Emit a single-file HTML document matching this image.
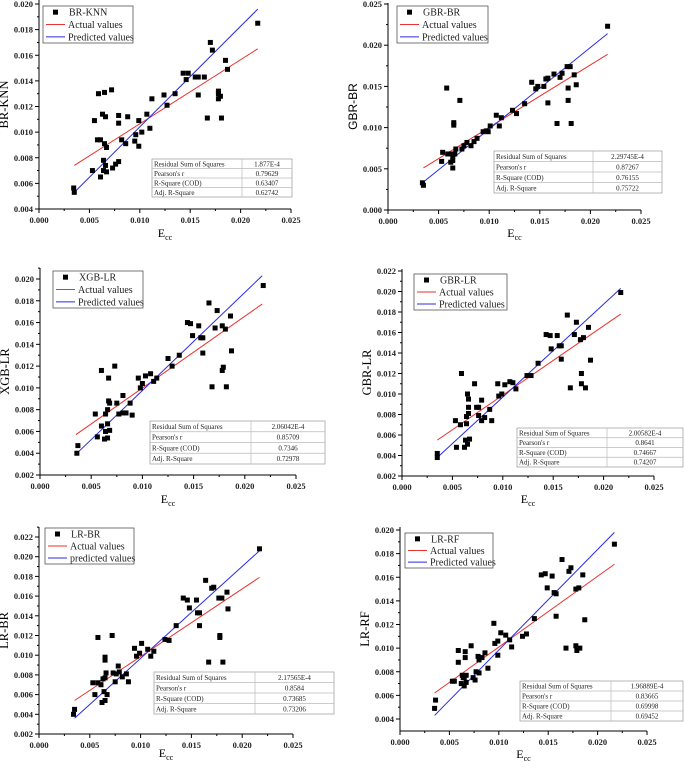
<!DOCTYPE html>
<html><head><meta charset="utf-8"><style>
body{margin:0;background:#fff;}
svg{display:block;font-family:"Liberation Serif",serif;}
</style></head><body>
<svg id="fig" width="685" height="769" viewBox="0 0 685 769" xmlns="http://www.w3.org/2000/svg"></svg>
<script>
// ---- data (per panel) ----
const p1X=[0.00344,0.0035,0.0053,0.0055,0.0059,0.0058,0.0061,0.0063,0.0061,0.0064,0.0064,0.0065,0.0065,0.0066,0.0066,0.0067,0.0067,0.0072,0.0073,0.0076,0.0079,0.0079,0.0079,0.0082,0.0086,0.0088,0.0095,0.0096,0.0099,0.0099,0.0102,0.0107,0.0110,0.0112,0.0124,0.0127,0.0135,0.0143,0.0146,0.0148,0.0155,0.0158,0.0158,0.0164,0.0167,0.0170,0.0172,0.0178,0.0178,0.0178,0.0180,0.0181,0.0185,0.0187,0.0217];
const p1Y=[0.00564,0.0053,0.0070,0.0109,0.0130,0.0094,0.0094,0.0114,0.0065,0.0078,0.0070,0.0091,0.0131,0.0112,0.0074,0.0069,0.0088,0.0133,0.0072,0.0075,0.0113,0.0107,0.0077,0.0094,0.0091,0.0112,0.0093,0.0098,0.0089,0.0109,0.0100,0.0114,0.0103,0.0126,0.0129,0.0121,0.0130,0.0146,0.0141,0.0146,0.0143,0.0143,0.0129,0.0143,0.0111,0.0170,0.0164,0.0132,0.0130,0.0126,0.0128,0.0111,0.0156,0.0149,0.0185];
const p2X=[0.0034,0.0035,0.0053,0.0054,0.0058,0.0059,0.0062,0.0062,0.0064,0.0064,0.0064,0.0065,0.0065,0.0066,0.0067,0.0071,0.0073,0.0075,0.0078,0.0082,0.0085,0.0088,0.0094,0.0097,0.0099,0.0101,0.0107,0.0110,0.0112,0.0123,0.0127,0.0135,0.0142,0.0146,0.0148,0.0154,0.0156,0.0158,0.0158,0.0164,0.0167,0.0170,0.0172,0.0177,0.0178,0.0178,0.0180,0.0181,0.0184,0.0186,0.0217];
const p2Y=[0.0033,0.0030,0.0059,0.0070,0.0148,0.0068,0.0068,0.0058,0.0060,0.0065,0.0051,0.0106,0.0103,0.0068,0.0074,0.0133,0.0074,0.0078,0.0082,0.0078,0.0083,0.0087,0.0095,0.0096,0.0095,0.0102,0.0115,0.0102,0.0112,0.0121,0.0117,0.0129,0.0155,0.0147,0.0150,0.0150,0.0159,0.0160,0.0130,0.0165,0.0105,0.0161,0.0166,0.0174,0.0148,0.0133,0.0174,0.0105,0.0164,0.0152,0.0223];
const p3X=[0.0036,0.0037,0.0054,0.0056,0.0060,0.0060,0.0063,0.0064,0.0064,0.0066,0.0066,0.0066,0.0067,0.0067,0.0068,0.0068,0.0073,0.0075,0.0077,0.0081,0.0081,0.0084,0.0088,0.0090,0.0096,0.0098,0.0100,0.0103,0.0108,0.0111,0.0114,0.0125,0.0129,0.0136,0.0144,0.0147,0.0149,0.0155,0.0157,0.0159,0.0159,0.0165,0.0168,0.0171,0.0173,0.0178,0.0178,0.0179,0.0181,0.0182,0.0186,0.0187,0.0218];
const p3Y=[0.0040,0.0047,0.0076,0.0055,0.0116,0.0065,0.0053,0.0076,0.0060,0.0080,0.0067,0.0054,0.0109,0.0088,0.0086,0.0061,0.0120,0.0086,0.0076,0.0093,0.0077,0.0077,0.0086,0.0075,0.0109,0.0100,0.0104,0.0111,0.0113,0.0106,0.0109,0.0127,0.0120,0.0130,0.0160,0.0159,0.0148,0.0157,0.0146,0.0146,0.0132,0.0178,0.0101,0.0155,0.0171,0.0157,0.0116,0.0119,0.0154,0.0101,0.0166,0.0134,0.0194];
const p4X=[0.0035,0.0035,0.0053,0.0054,0.0058,0.0059,0.0062,0.0063,0.0064,0.0064,0.0065,0.0066,0.0065,0.0066,0.0066,0.0067,0.0072,0.0074,0.0076,0.0076,0.0079,0.0079,0.0082,0.0087,0.0089,0.0095,0.0096,0.0099,0.0102,0.0107,0.0110,0.0113,0.0124,0.0128,0.0135,0.0143,0.0147,0.0148,0.0154,0.0156,0.0158,0.0158,0.0164,0.0167,0.0171,0.0173,0.0177,0.0178,0.0178,0.0180,0.0182,0.0185,0.0187,0.0217];
const p4Y=[0.0038,0.0042,0.0074,0.0048,0.0070,0.0120,0.0048,0.0055,0.0078,0.0071,0.0051,0.0081,0.0100,0.0095,0.0087,0.0056,0.0110,0.0087,0.0087,0.0079,0.0094,0.0074,0.0077,0.0085,0.0074,0.0110,0.0098,0.0100,0.0109,0.0112,0.0111,0.0105,0.0118,0.0118,0.0130,0.0158,0.0157,0.0144,0.0157,0.0147,0.0147,0.0134,0.0177,0.0106,0.0158,0.0170,0.0153,0.0120,0.0110,0.0155,0.0106,0.0165,0.0133,0.0199];
const p5X=[0.0034,0.0035,0.0053,0.0055,0.0058,0.0058,0.0061,0.0062,0.0063,0.0064,0.0065,0.0065,0.0065,0.0065,0.0066,0.0067,0.0072,0.0073,0.0075,0.0076,0.0078,0.0079,0.0082,0.0086,0.0088,0.0094,0.0096,0.0099,0.0101,0.0107,0.0110,0.0113,0.0124,0.0128,0.0135,0.0142,0.0146,0.0148,0.0155,0.0156,0.0158,0.0158,0.0164,0.0167,0.0170,0.0172,0.0177,0.0178,0.0178,0.0180,0.0181,0.0185,0.0186,0.0217];
const p5Y=[0.0040,0.0045,0.0072,0.0060,0.0118,0.0072,0.0070,0.0052,0.0076,0.0063,0.0054,0.0077,0.0098,0.0095,0.0082,0.0060,0.0120,0.0082,0.0073,0.0081,0.0089,0.0083,0.0078,0.0081,0.0073,0.0107,0.0099,0.0102,0.0112,0.0106,0.0099,0.0104,0.0116,0.0115,0.0130,0.0158,0.0156,0.0148,0.0156,0.0143,0.0143,0.0130,0.0176,0.0093,0.0168,0.0169,0.0158,0.0118,0.0120,0.0158,0.0093,0.0164,0.0147,0.0208];
const p6X=[0.0035,0.0036,0.0053,0.0055,0.0059,0.0059,0.0062,0.0063,0.0064,0.0065,0.0065,0.0066,0.0066,0.0067,0.0067,0.0072,0.0074,0.0076,0.0077,0.0079,0.0080,0.0080,0.0083,0.0086,0.0089,0.0095,0.0096,0.0099,0.0099,0.0102,0.0107,0.0111,0.0113,0.0124,0.0128,0.0136,0.0143,0.0147,0.0149,0.0154,0.0156,0.0158,0.0158,0.0164,0.0168,0.0171,0.0173,0.0178,0.0178,0.0179,0.0181,0.0182,0.0185,0.0187,0.0217];
const p6Y=[0.0049,0.0056,0.0072,0.0072,0.0088,0.0098,0.0070,0.0077,0.0075,0.0075,0.0068,0.0097,0.0092,0.0077,0.0071,0.0102,0.0075,0.0073,0.0080,0.0093,0.0079,0.0090,0.0092,0.0096,0.0083,0.0121,0.0104,0.0094,0.0106,0.0113,0.0111,0.0107,0.0101,0.0110,0.0112,0.0125,0.0162,0.0163,0.0151,0.0161,0.0147,0.0146,0.0127,0.0175,0.0100,0.0165,0.0168,0.0150,0.0102,0.0098,0.0151,0.0100,0.0162,0.0124,0.0188];
// fit lines [x0,y0,x1,y1]
const p1Red=[0.0035,0.0074,0.0217,0.0165], p1Blue=[0.0035,0.0053,0.0217,0.0196];
const p2Red=[0.0035,0.0051,0.0217,0.0189], p2Blue=[0.0035,0.0034,0.0217,0.0214];
const p3Red=[0.0035,0.0057,0.0217,0.0177], p3Blue=[0.0035,0.0039,0.0217,0.0203];
const p4Red=[0.0035,0.0055,0.0217,0.0178], p4Blue=[0.0035,0.0038,0.0217,0.0203];
const p5Red=[0.0035,0.0054,0.0217,0.0179], p5Blue=[0.0035,0.0036,0.0217,0.0206];
const p6Red=[0.0035,0.0062,0.0217,0.0171], p6Blue=[0.0035,0.0043,0.0217,0.0198];
// stats
const p1Stats=["1.877E-4","0.79629","0.63407","0.62742"];
const p2Stats=["2.29745E-4","0.87267","0.76155","0.75722"];
const p3Stats=["2.06042E-4","0.85709","0.7346","0.72978"];
const p4Stats=["2.00582E-4","0.8641","0.74667","0.74207"];
const p5Stats=["2.17565E-4","0.8584","0.73685","0.73206"];
const p6Stats=["1.96889E-4","0.83665","0.69998","0.69452"];
const statLabels=["Residual Sum of Squares","Pearson's r","R-Square (COD)","Adj. R-Square"];
const xTicks=[0,0.005,0.010,0.015,0.020,0.025];
const yTicksA=[0.004,0.006,0.008,0.010,0.012,0.014,0.016,0.018,0.020];
const yTicksB=[0,0.005,0.010,0.015,0.020,0.025];
const yTicksC=[0.002,0.004,0.006,0.008,0.010,0.012,0.014,0.016,0.018,0.020];
const yTicksD=[0.002,0.004,0.006,0.008,0.010,0.012,0.014,0.016,0.018,0.020,0.022];

const panels=[
 {name:"br-knn",label:"BR-KNN",sans:false,pred:"Predicted values",X:p1X,Y:p1Y,red:p1Red,blue:p1Blue,stats:p1Stats,yt:yTicksA,
  px0:39,px1:291,xv0:0,xv1:0.025,vy0:0.004,py0:209,vy1:0.020,py1:4,axTop:0,axBot:209,
  leg:[43,6,133,43],tab:[152,159,292,197,242],xlab:237},
 {name:"gbr-br",label:"GBR-BR",sans:true,pred:"Predicted values",X:p2X,Y:p2Y,red:p2Red,blue:p2Blue,stats:p2Stats,yt:yTicksB,
  px0:388,px1:641,xv0:0,xv1:0.025,vy0:0,py0:210,vy1:0.025,py1:4,axTop:3,axBot:210,
  leg:[397,6,488,43],tab:[494,151,662,193,593],xlab:237},
 {name:"xgb-lr",label:"XGB-LR",sans:false,pred:"Predicted values",X:p3X,Y:p3Y,red:p3Red,blue:p3Blue,stats:p3Stats,yt:yTicksC,
  px0:40,px1:296,xv0:0,xv1:0.025,vy0:0.002,py0:475,vy1:0.020,py1:279,axTop:268,axBot:475,
  leg:[53,271,143,308],tab:[150,421,325,464,251],xlab:503},
 {name:"gbr-lr",label:"GBR-LR",sans:false,pred:"Predicted values",X:p4X,Y:p4Y,red:p4Red,blue:p4Blue,stats:p4Stats,yt:yTicksD,
  px0:402,px1:654,xv0:0,xv1:0.025,vy0:0.002,py0:476,vy1:0.022,py1:271,axTop:269,axBot:476,
  leg:[414,274,507,310],tab:[517,428,683,467,607],xlab:503},
 {name:"lr-br",label:"LR-BR",sans:false,pred:"predicted values",X:p5X,Y:p5Y,red:p5Red,blue:p5Blue,stats:p5Stats,yt:yTicksD,
  px0:39,px1:293,xv0:0,xv1:0.025,vy0:0.002,py0:734,vy1:0.022,py1:537,axTop:527,axBot:734,
  leg:[45,528,134,564],tab:[154,672,334,714,255],xlab:757},
 {name:"lr-rf",label:"LR-RF",sans:false,pred:"Predicted values",X:p6X,Y:p6Y,red:p6Red,blue:p6Blue,stats:p6Stats,yt:yTicksA,
  px0:400,px1:647,xv0:0,xv1:0.025,vy0:0.004,py0:719,vy1:0.020,py1:530,axTop:527,axBot:731,
  leg:[405,533,493,568],tab:[520,681,683,721,611],xlab:758}
];
const NS="http://www.w3.org/2000/svg";
const svg=document.getElementById('fig');
function mk(tag,attrs,parent,txt){const e=document.createElementNS(NS,tag);for(const k in attrs)e.setAttribute(k,attrs[k]);if(txt!==undefined)e.textContent=txt;parent.appendChild(e);return e;}
function fmt(v,d){return v.toFixed(3);}
panels.forEach(p=>{
  const sx=v=>p.px0+(v-p.xv0)/(p.xv1-p.xv0)*(p.px1-p.px0);
  const sy=v=>p.py0+(v-p.vy0)/(p.vy1-p.vy0)*(p.py1-p.py0);
  const g=mk('g',{},svg);
  
  
  // axes
  const ax=mk('path',{d:`M${p.px0},${p.axTop}V${p.axBot}H${p.px1}`,fill:'none',stroke:'#000','stroke-width':1},g);
  
  
  // x ticks
  xTicks.forEach((t,i)=>{
    const x=sx(t);
    mk('line',{x1:x,y1:p.axBot,x2:x,y2:p.axBot+4,stroke:'#000','stroke-width':1},g);
    if(i<xTicks.length-1){const xm=sx(t+0.0025);mk('line',{x1:xm,y1:p.axBot,x2:xm,y2:p.axBot+2,stroke:'#000','stroke-width':1},g);}
    const tl=mk('text',{x:x,y:p.axBot+14,'text-anchor':'middle','font-size':8.5,'font-weight':'bold',fill:'#222'},g,fmt(t));
    
    
  });
  const step=p.yt[1]-p.yt[0];
  p.yt.forEach((t,i)=>{
    const y=sy(t);
    mk('line',{x1:p.px0-4,y1:y,x2:p.px0,y2:y,stroke:'#000','stroke-width':1},g);
    const ym=sy(t+step/2);
    if(ym>=p.axTop)mk('line',{x1:p.px0-2,y1:ym,x2:p.px0,y2:ym,stroke:'#000','stroke-width':1},g);
    const tl=mk('text',{x:p.px0-6,y:y+3,'text-anchor':'end','font-size':8.5,'font-weight':'bold',fill:'#222'},g,fmt(t));
    
    
  });
  // y title
  const cy=(p.axTop+p.axBot)/2, yx=p.px0-31;
  const yt=mk('text',{x:yx,y:cy,transform:`rotate(-90 ${yx} ${cy})`,'text-anchor':'middle','font-size':p.sans?12:12.5,fill:'#000','font-family':p.sans?'"Liberation Sans",sans-serif':'"Liberation Serif",serif'},g,p.label);
  
  
  // x title
  const xt=mk('text',{x:(p.px0+p.px1)/2,y:p.xlab,'text-anchor':'middle','font-size':12,fill:'#000'},g);
  
  
  mk('tspan',{},xt,'E');
  mk('tspan',{'font-size':8,dy:3},xt,'cc');
  // lines
  const rl=mk('line',{x1:sx(p.red[0]),y1:sy(p.red[1]),x2:sx(p.red[2]),y2:sy(p.red[3]),stroke:'#e8322e','stroke-width':1},g);
  
  
  const bl=mk('line',{x1:sx(p.blue[0]),y1:sy(p.blue[1]),x2:sx(p.blue[2]),y2:sy(p.blue[3]),stroke:'#2a2ae8','stroke-width':1},g);
  
  
  // points
  p.X.forEach((xv,i)=>{
    const r=mk('rect',{x:sx(xv)-2.5,y:sy(p.Y[i])-2.5,width:5,height:5,fill:'#000'},g);
    
    
  });
  // legend
  const [lx0,ly0,lx1,ly1]=p.leg;
  const lg=mk('g',{},g);
  
  
  mk('rect',{x:lx0,y:ly0,width:lx1-lx0,height:ly1-ly0,fill:'#fff',stroke:'#555','stroke-width':0.8},lg);
  const rh=(ly1-ly0)/3;
  mk('rect',{x:lx0+10,y:ly0+rh/2-2.5,width:5,height:5,fill:'#000'},lg);
  mk('line',{x1:lx0+3,y1:ly0+rh*1.5,x2:lx0+22,y2:ly0+rh*1.5,stroke:'#e8322e','stroke-width':1},lg);
  mk('line',{x1:lx0+3,y1:ly0+rh*2.5,x2:lx0+22,y2:ly0+rh*2.5,stroke:'#2a2ae8','stroke-width':1},lg);
  [p.label,'Actual values',p.pred].forEach((s,i)=>{
    const e=mk('text',{x:lx0+(i==0?26:25),y:ly0+rh*(i+0.5)+3.5,'font-size':10,fill:'#222'},lg,s);
    
    
  });
  // table
  const [tx0,ty0,tx1,ty1,tsp]=p.tab;
  const tg=mk('g',{},g);
  
  
  mk('rect',{x:tx0,y:ty0,width:tx1-tx0,height:ty1-ty0,fill:'#fff',stroke:'#999','stroke-width':0.7},tg);
  const th=(ty1-ty0)/4;
  for(let i=1;i<4;i++)mk('line',{x1:tx0,y1:ty0+th*i,x2:tx1,y2:ty0+th*i,stroke:'#bbb','stroke-width':0.7},tg);
  mk('line',{x1:tsp,y1:ty0,x2:tsp,y2:ty1,stroke:'#bbb','stroke-width':0.7},tg);
  statLabels.forEach((s,i)=>{
    mk('text',{x:tx0+2,y:ty0+th*(i+0.5)+2.5,'font-size':7,fill:'#222'},tg,s);
    mk('text',{x:(tsp+tx1)/2,y:ty0+th*(i+0.5)+2.5,'font-size':7,fill:'#222','text-anchor':'middle'},tg,p.stats[i]);
  });
});
</script>
</body></html>
